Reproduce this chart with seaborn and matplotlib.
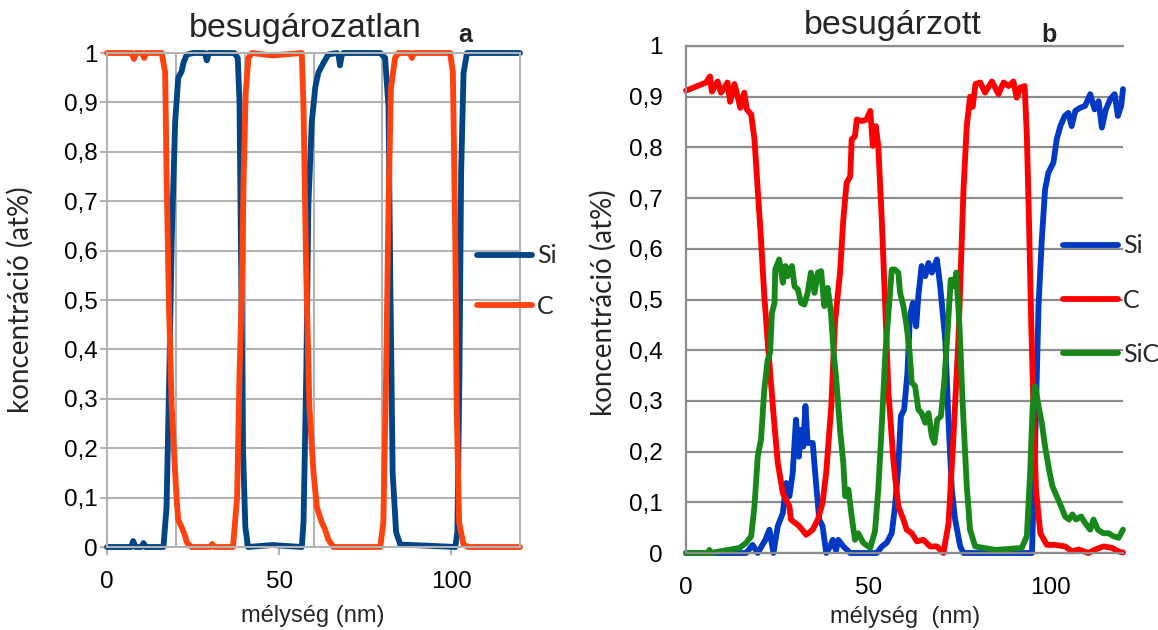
import pandas as pd
import matplotlib
matplotlib.use("Agg")
import matplotlib.pyplot as plt
import seaborn as sns
from matplotlib.ticker import FixedLocator

sns.set_theme(style="white")
plt.rcParams["font.family"] = ["Liberation Sans", "DejaVu Sans"]

# ---- a) besugározatlan ----
si_a_x = [0, 7.0, 7.6, 8.3, 10.0, 10.6, 11.2, 16.4, 17.3, 18.1, 18.8, 19.8, 20.7, 21.7, 22.2, 23.2,
          25.1, 28.4, 29.0, 29.6, 30.9, 37.0, 38.0, 38.5, 39.0, 39.5, 40.2, 41.0, 48.0, 56.6, 57.1,
          57.9, 58.5, 59.5, 60.5, 61.4, 62.9, 64.3, 66.8, 67.3, 67.7, 68.2, 68.7, 79.4, 80.8, 81.8,
          82.3, 83.0, 84.0, 85.2, 92.0, 101.2, 101.8, 102.4, 102.9, 103.6, 104.6, 120.0]
si_a_y = [0, 0, 0.012, 0, 0, 0.008, 0, 0, 0.08, 0.35, 0.62, 0.86, 0.95, 0.963, 0.98, 0.997,
          1, 1, 0.985, 1, 1, 1, 0.99, 0.9, 0.55, 0.2, 0.04, 0, 0.004, 0, 0.05,
          0.35, 0.69, 0.86, 0.93, 0.96, 0.98, 0.997, 1, 0.995, 0.975, 0.995, 1, 1, 0.99, 0.89,
          0.55, 0.15, 0.03, 0.005, 0.003, 0, 0.03, 0.35, 0.76, 0.96, 1, 1]

c_a_x = [0, 7.2, 7.8, 8.5, 10.2, 10.8, 11.4, 15.9, 16.9, 17.3, 18.0, 18.8, 19.8, 20.3, 20.7, 21.7,
         22.4, 23.3, 24.6, 30.0, 30.6, 31.2, 36.6, 37.8, 38.5, 39.1, 39.7, 40.3, 41.1, 42.1, 48.0,
         56.6, 57.1, 57.9, 58.8, 60.0, 61.0, 62.4, 63.4, 64.3, 65.8, 72.0, 79.4, 80.3, 81.1, 81.8,
         82.5, 83.7, 84.7, 88.0, 88.6, 89.2, 99.7, 100.5, 101.2, 101.6, 102.3, 103.6, 105.0, 120.0]
c_a_y = [1, 1, 0.988, 1, 1, 0.99, 1, 1, 0.96, 0.76, 0.49, 0.285, 0.15, 0.09, 0.055, 0.04,
         0.028, 0.008, 0, 0, 0.006, 0, 0, 0.1, 0.35, 0.5, 0.75, 0.92, 0.99, 1, 0.995,
         1, 0.89, 0.55, 0.285, 0.15, 0.08, 0.05, 0.035, 0.015, 0, 0, 0, 0.05, 0.35, 0.69,
         0.93, 0.99, 1, 1, 0.99, 1, 1, 0.96, 0.62, 0.285, 0.05, 0.005, 0, 0]

# ---- b) besugárzott ----
si_b_x = [0, 16.5, 18.3, 19.7, 21.8, 22.9, 24.0, 25.2, 26.6, 27.5, 28.4, 29.3, 30.2, 31.0, 31.6,
          32.2, 32.8, 33.4, 34.8, 35.7, 36.6, 37.5, 38.5, 39.6, 40.3, 41.2, 41.8, 43.2, 45.1, 52.4,
          53.8, 55.1, 56.5, 57.4, 58.3, 59.0, 59.9, 60.8, 61.5, 62.3, 63.2, 63.8, 64.7, 65.7, 66.6,
          67.5, 68.9, 69.8, 71.2, 72.1, 73.0, 73.9, 75.3, 76.2, 95.0, 95.9, 96.8, 97.7, 98.6, 99.5,
          100.9, 101.8, 102.8, 104.0, 105.0, 105.9, 106.9, 108.2, 109.6, 111.0, 112.2, 113.3, 114.2,
          115.3, 116.5, 117.7, 118.6, 119.5, 120.0]
si_b_y = [0, 0, 0.016, 0, 0.026, 0.046, 0, 0.053, 0.079, 0.138, 0.112, 0.158, 0.263, 0.19, 0.243,
          0.21, 0.29, 0.217, 0.217, 0.138, 0.066, 0.053, 0, 0.013, 0.026, 0.005, 0.026, 0.013, 0, 0,
          0.013, 0.02, 0.039, 0.092, 0.171, 0.27, 0.283, 0.355, 0.467, 0.493, 0.447, 0.507, 0.566,
          0.546, 0.572, 0.553, 0.579, 0.526, 0.42, 0.257, 0.125, 0.066, 0.013, 0, 0, 0.224, 0.487,
          0.618, 0.717, 0.75, 0.77, 0.816, 0.842, 0.862, 0.868, 0.842, 0.872, 0.878, 0.882, 0.905,
          0.875, 0.891, 0.839, 0.875, 0.895, 0.905, 0.862, 0.882, 0.915]

c_b_x = [0, 5.5, 6.6, 7.1, 8.7, 9.6, 11.4, 12.1, 13.3, 14.2, 14.9, 16.0, 16.7, 17.9, 18.8, 19.7,
         20.6, 21.5, 22.4, 23.4, 24.0, 25.2, 26.6, 28.4, 28.8, 31.1, 33.0, 34.8, 36.2, 37.5, 38.5,
         39.2, 39.9, 40.9, 42.3, 43.2, 44.1, 45.1, 45.5, 46.4, 46.9, 48.3, 49.6, 50.6, 51.3, 52.1,
         52.8, 53.8, 54.7, 55.6, 57.0, 58.3, 59.7, 60.6, 62.0, 63.4, 65.2, 67.0, 68.9, 70.7, 72.1,
         73.4, 74.8, 76.2, 77.1, 78.0, 78.7, 79.5, 80.8, 82.1, 84.0, 85.8, 87.2, 88.6, 89.9, 90.8,
         91.8, 93.0, 93.6, 94.2, 94.8, 95.4, 96.1, 97.3, 99.1, 101.4, 104.1, 106.0, 107.8, 110.5,
         112.4, 114.7, 117.0, 118.8, 120.0]
c_b_y = [0.912, 0.928, 0.94, 0.91, 0.93, 0.908, 0.928, 0.89, 0.925, 0.90, 0.878, 0.908, 0.875, 0.865,
         0.816, 0.717, 0.618, 0.507, 0.42, 0.33, 0.276, 0.178, 0.118, 0.092, 0.066, 0.053, 0.036,
         0.046, 0.066, 0.099, 0.158, 0.224, 0.29, 0.454, 0.553, 0.658, 0.73, 0.743, 0.816, 0.822,
         0.855, 0.852, 0.855, 0.872, 0.803, 0.842, 0.803, 0.651, 0.487, 0.316, 0.178, 0.092, 0.066,
         0.046, 0.039, 0.023, 0.026, 0.013, 0.013, 0.0, 0.059, 0.224, 0.42, 0.717, 0.842, 0.9, 0.88,
         0.925, 0.928, 0.908, 0.93, 0.905, 0.928, 0.921, 0.93, 0.898, 0.918, 0.921, 0.822, 0.651,
         0.454, 0.29, 0.125, 0.039, 0.016, 0.016, 0.013, 0.003, 0.007, 0.0, 0.007, 0.013, 0.01,
         0.003, 0.001]

sic_b_x = [0, 6.0, 6.4, 6.8, 14.7, 16.5, 17.9, 18.8, 19.7, 20.6, 21.5, 22.4, 23.1, 23.6, 24.3, 24.5,
           25.6, 26.6, 27.3, 27.9, 29.1, 29.8, 30.7, 31.6, 32.5, 33.4, 34.3, 35.3, 36.2, 37.1, 38.0,
           38.9, 39.8, 40.5, 41.4, 42.3, 43.2, 43.7, 44.6, 45.5, 46.4, 47.3, 48.7, 50.6, 51.9, 52.8,
           53.8, 54.7, 55.6, 56.5, 57.4, 58.3, 58.8, 59.7, 60.6, 61.4, 62.0, 62.9, 63.8, 64.7, 65.7,
           66.6, 67.5, 68.2, 69.0, 70.0, 70.9, 71.8, 72.7, 73.6, 74.2, 75.1, 76.0, 77.1, 78.0, 79.4,
           85.0, 92.2, 93.6, 94.5, 95.2, 95.9, 96.8, 97.7, 98.6, 99.7, 100.6, 101.8, 103.0, 104.1,
           105.2, 106.1, 107.1, 108.5, 109.6, 111.0, 111.9, 113.1, 114.6, 116.0, 117.4, 118.8, 120.0]
sic_b_y = [0, 0, 0.006, 0, 0.01, 0.02, 0.033, 0.092, 0.19, 0.224, 0.322, 0.38, 0.395, 0.474, 0.493,
           0.559, 0.579, 0.533, 0.566, 0.546, 0.566, 0.526, 0.52, 0.493, 0.49, 0.513, 0.553, 0.513,
           0.553, 0.556, 0.487, 0.523, 0.474, 0.40, 0.33, 0.243, 0.178, 0.112, 0.125, 0.072, 0.026,
           0.039, 0.02, 0.01, 0.043, 0.125, 0.257, 0.388, 0.474, 0.559, 0.559, 0.553, 0.513, 0.487,
           0.447, 0.395, 0.336, 0.329, 0.283, 0.276, 0.257, 0.276, 0.23, 0.217, 0.263, 0.27, 0.336,
           0.434, 0.539, 0.526, 0.553, 0.447, 0.29, 0.132, 0.046, 0.013, 0.006, 0.01, 0.033, 0.158,
           0.29, 0.329, 0.29, 0.257, 0.21, 0.164, 0.132, 0.112, 0.092, 0.072, 0.066, 0.076, 0.066,
           0.072, 0.059, 0.046, 0.066, 0.046, 0.039, 0.039, 0.033, 0.03, 0.046]

y_ticks = [0, 0.1, 0.2, 0.3, 0.4, 0.5, 0.6, 0.7, 0.8, 0.9, 1]
y_tick_labels = ["0", "0,1", "0,2", "0,3", "0,4", "0,5", "0,6", "0,7", "0,8", "0,9", "1"]
x_ticks = [0, 50, 100]

series_a = [("Si", si_a_x, si_a_y, "#004586"), ("C", c_a_x, c_a_y, "#ff420e")]
series_b = [("Si", si_b_x, si_b_y, "#0039c4"), ("C", c_b_x, c_b_y, "#ff0000"),
            ("SiC", sic_b_x, sic_b_y, "#17871a")]

W, H = 1158, 630
fig = plt.figure(figsize=(W / 100, H / 100), dpi=100)
ax1 = fig.add_axes([107 / W, 1 - 547 / H, 413 / W, 494 / H])
ax2 = fig.add_axes([686 / W, 1 - 553 / H, 437 / W, 507 / H])

legend_font = {"family": ["Lato", "DejaVu Sans"], "size": 18}


def draw(ax, series, lw):
    for name, xs, ys, col in series:
        df = pd.DataFrame({"x": xs, "y": ys})
        sns.lineplot(data=df, x="x", y="y", ax=ax, color=col, label=name, linewidth=lw,
                     estimator=None, sort=False, clip_on=False, solid_capstyle="round",
                     solid_joinstyle="round")
    ax.set_xlim(0, 120)
    ax.set_ylim(0, 1)
    ax.set_xlabel("")
    ax.set_ylabel("")
    ax.set_xticks(x_ticks)
    ax.set_xticklabels([str(v) for v in x_ticks])
    ax.set_yticks(y_ticks)
    ax.set_yticklabels(y_tick_labels)
    ax.set_axisbelow(True)


# panel a
draw(ax1, series_a, 4.2)
g1 = "#b3b3b3"
ax1.xaxis.set_minor_locator(FixedLocator(list(range(0, 121, 20))))
ax1.grid(which="minor", axis="x", color=g1, linewidth=1.5)
ax1.grid(which="major", axis="y", color=g1, linewidth=1.5)
ax1.tick_params(axis="x", which="major", bottom=True, length=6, width=1.5, color=g1,
                pad=11, labelsize=17.5, labelcolor="black")
ax1.tick_params(axis="x", which="minor", length=0)
ax1.tick_params(axis="y", left=True, length=5, width=1.5, color=g1, pad=2,
                labelsize=17.5, labelcolor="black")
for sp in ax1.spines.values():
    sp.set_color(g1)
    sp.set_linewidth(1.5)
h, l = ax1.get_legend_handles_labels()
ax1.legend(h, l, loc="center left", bbox_to_anchor=(0.896, 0.538), frameon=False,
           prop=legend_font, handlelength=2.2, handletextpad=0.2, labelspacing=1.1,
           borderpad=0, borderaxespad=0)

ax1.text(0.479, 1.032, "besugározatlan", transform=ax1.transAxes, ha="center",
         va="baseline", fontsize=24.5)
ax1.text(0.867, 1.022, "a", transform=ax1.transAxes, ha="center", va="baseline",
         fontsize=18, fontweight="bold")

# panel b
draw(ax2, series_b, 4.2)
g2 = "#8c8c8c"
ax2.grid(which="major", axis="y", color=g2, linewidth=1.6)
ax2.tick_params(axis="x", bottom=False, length=0, pad=17, labelsize=17.5, labelcolor="black")
ax2.tick_params(axis="y", left=False, length=0, pad=17, labelsize=17.5, labelcolor="black")
ax2.spines["right"].set_visible(False)
for side in ["left", "top", "bottom"]:
    ax2.spines[side].set_color(g2)
    ax2.spines[side].set_linewidth(1.6)
h, l = ax2.get_legend_handles_labels()
ax2.legend(h, l, loc="center left", bbox_to_anchor=(0.863, 0.499), frameon=False,
           prop=legend_font, handlelength=2.2, handletextpad=0.2, labelspacing=1.25,
           borderpad=0, borderaxespad=0)

ax2.text(0.474, 1.0237, "besugárzott", transform=ax2.transAxes, ha="center",
         va="baseline", fontsize=24.5)
ax2.text(0.8295, 1.008, "b", transform=ax2.transAxes, ha="center", va="baseline",
         fontsize=18, fontweight="bold")

# axis titles
lab_font = ["Lato", "DejaVu Sans"]
fig.text(20 / W, 1 - 300 / H, "koncentráció (at%)", rotation=90, ha="center", va="center",
         fontsize=20, family=lab_font)
fig.text(603 / W, 1 - 303 / H, "koncentráció (at%)", rotation=90, ha="center", va="center",
         fontsize=20, family=lab_font)
fig.text(313 / W, 1 - 616 / H, "mélység (nm)", ha="center", va="center", fontsize=17)
fig.text(905 / W, 1 - 617 / H, "mélység  (nm)", ha="center", va="center", fontsize=17)

fig.savefig("out.png", dpi=100)
plt.close(fig)
